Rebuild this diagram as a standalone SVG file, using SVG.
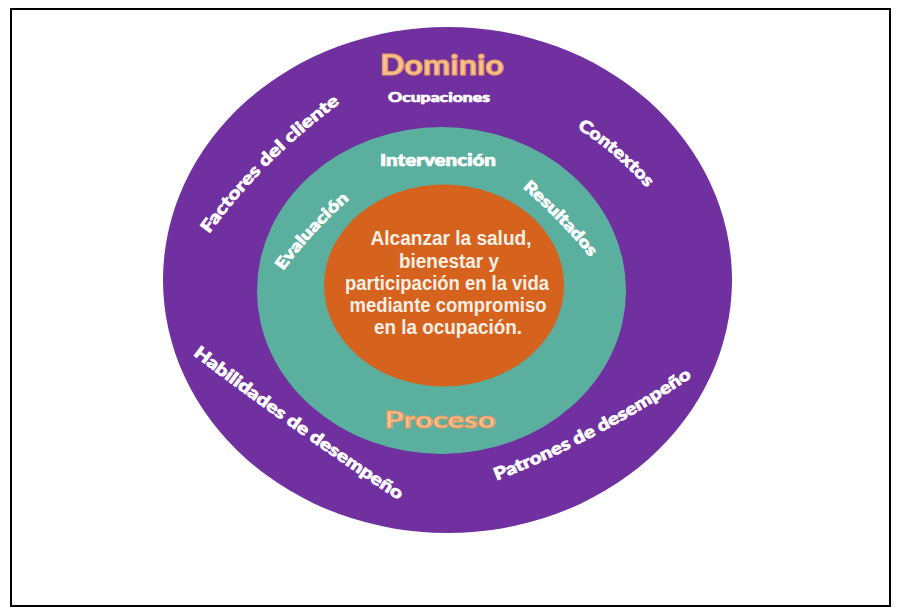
<svg xmlns="http://www.w3.org/2000/svg" width="899" height="614" viewBox="0 0 899 614">
<style>
.ring-lbl{font-family:Lato,"Open Sans","Liberation Sans",sans-serif;font-weight:900;fill:#ffffff;stroke:#ffffff;stroke-width:0.7;}
.title{font-family:Lato,"Open Sans","Liberation Sans",sans-serif;font-weight:900;fill:#f9c291;stroke:#e59a62;stroke-width:1.1;}
.center{font-family:"Liberation Sans",Arial,sans-serif;font-weight:bold;font-size:20px;fill:#fcefe6;text-anchor:middle;}
</style>
<defs>
<path id="pFact" d="M202,244 Q262,158 350,96"/>
<path id="pCont" d="M570,124 Q616,151 652,194"/>
<path id="pHab" d="M180,345 Q293,432 412,509"/>
<path id="pPat" d="M490,483 Q598,442 698,373"/>
<path id="pEva" d="M278,278 Q312,230 356,194"/>
<path id="pRes" d="M518,184 Q558,217 594,262"/>
</defs>
<rect x="11" y="9" width="879" height="597" fill="#ffffff" stroke="#000000" stroke-width="2"/>
<g id="connectors"/>
<g id="dominio">
<ellipse cx="447.5" cy="280" rx="284.5" ry="253" fill="#7030a0"/>
<text class="title" x="442" y="75" font-size="28" text-anchor="middle" textLength="124" lengthAdjust="spacingAndGlyphs">Dominio</text>
<text class="ring-lbl" x="439" y="102" font-size="14" text-anchor="middle" textLength="102" lengthAdjust="spacingAndGlyphs">Ocupaciones</text>
<text class="ring-lbl" font-size="17"><textPath href="#pFact" startOffset="50%" text-anchor="middle" textLength="186" lengthAdjust="spacingAndGlyphs">Factores del cliente</textPath></text>
<text class="ring-lbl" font-size="17"><textPath href="#pCont" startOffset="50%" text-anchor="middle" textLength="92" lengthAdjust="spacingAndGlyphs">Contextos</textPath></text>
<text class="ring-lbl" font-size="17"><textPath href="#pHab" startOffset="50%" text-anchor="middle" textLength="252" lengthAdjust="spacingAndGlyphs">Habilidades de desempeño</textPath></text>
<text class="ring-lbl" font-size="17"><textPath href="#pPat" startOffset="50%" text-anchor="middle" textLength="222" lengthAdjust="spacingAndGlyphs">Patrones de desempeño</textPath></text>
</g>
<g id="proceso">
<ellipse cx="441.5" cy="290.5" rx="184.5" ry="163.5" fill="#5aaf9e"/>
<text class="ring-lbl" x="438" y="166" font-size="16" text-anchor="middle" textLength="116" lengthAdjust="spacingAndGlyphs">Intervención</text>
<text class="ring-lbl" font-size="16"><textPath href="#pEva" startOffset="50%" text-anchor="middle" textLength="98" lengthAdjust="spacingAndGlyphs">Evaluación</textPath></text>
<text class="ring-lbl" font-size="16"><textPath href="#pRes" startOffset="50%" text-anchor="middle" textLength="97" lengthAdjust="spacingAndGlyphs">Resultados</textPath></text>
<text class="title" x="440" y="428" font-size="23" text-anchor="middle" textLength="111" lengthAdjust="spacingAndGlyphs">Proceso</text>
</g>
<g id="centro">
<ellipse cx="444" cy="285.5" rx="120" ry="101" fill="#d5621d"/>
<text class="center" x="451" y="245" textLength="161" lengthAdjust="spacingAndGlyphs">Alcanzar la salud,</text>
<text class="center" x="449" y="268" textLength="100" lengthAdjust="spacingAndGlyphs">bienestar y</text>
<text class="center" x="447" y="290" textLength="204" lengthAdjust="spacingAndGlyphs">participación en la vida</text>
<text class="center" x="448" y="312" textLength="197" lengthAdjust="spacingAndGlyphs">mediante compromiso</text>
<text class="center" x="448" y="334" textLength="148" lengthAdjust="spacingAndGlyphs">en la ocupación.</text>
</g>
</svg>
